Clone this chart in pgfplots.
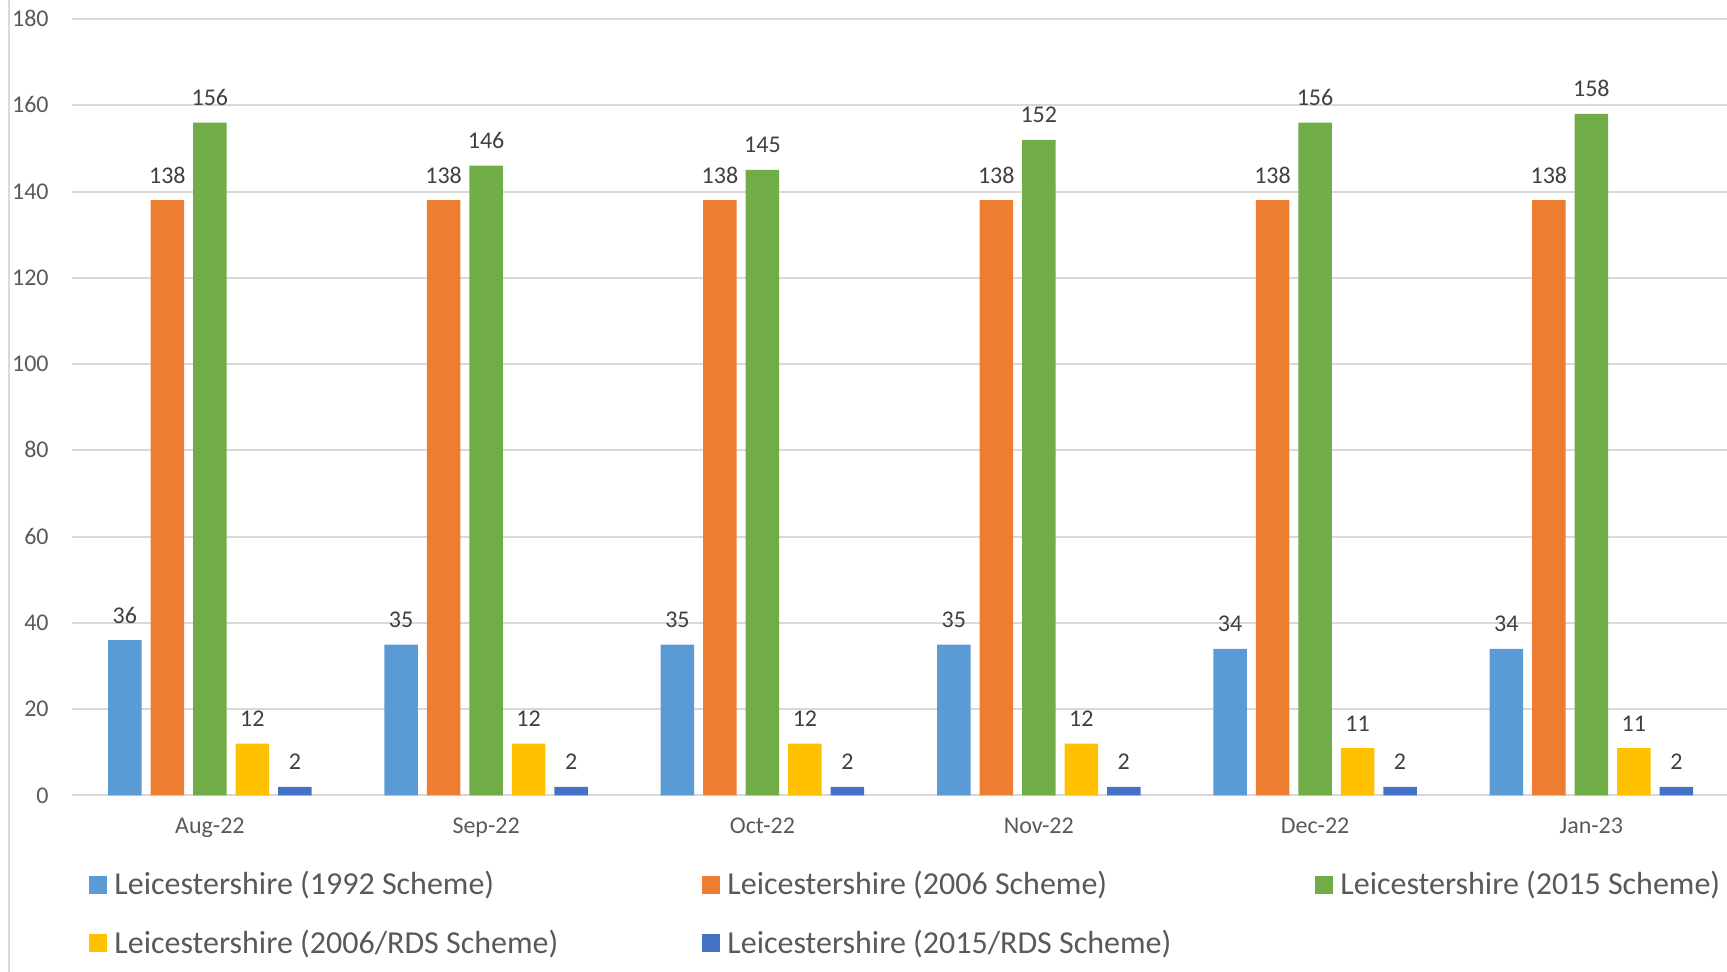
\documentclass[border=0pt]{standalone}
\usepackage{fontspec}
\setmainfont{Carlito}
\usepackage{pgfplots}
\pgfplotsset{compat=1.18}

\definecolor{s1}{HTML}{5B9BD5}
\definecolor{s2}{HTML}{ED7D31}
\definecolor{s3}{HTML}{70AD47}
\definecolor{s4}{HTML}{FFC000}
\definecolor{s5}{HTML}{4472C4}
\definecolor{gridc}{HTML}{D9D9D9}
\definecolor{tickc}{HTML}{595959}
\definecolor{labc}{HTML}{404040}

\newcommand{\legtext}[1]{\makebox[297.5pt][l]{\hspace{3.5pt}#1}}

\begin{document}
\begin{tikzpicture}
\useasboundingbox (0,0) rectangle (863.5pt,486pt);
\draw[gridc, line width=1.2pt] (4.5pt,0) -- (4.5pt,486pt);
\begin{axis}[
  at={(35.85pt,88.25pt)}, anchor=south west,
  scale only axis, width=828.9pt, height=388.25pt,
  xmin=-0.5, xmax=5.5, ymin=0, ymax=180,
  ybar=4.5pt, bar width=16.75pt,
  xtick={0,1,2,3,4,5},
  xticklabels={Aug-22,Sep-22,Oct-22,Nov-22,Dec-22,Jan-23},
  ytick={0,20,...,180},
  /pgf/number format/assume math mode=true,
  major tick length=0pt,
  axis line style={draw=none},
  ymajorgrids, grid style={gridc, line width=1pt},
  tick label style={font=\fontsize{12}{14}\selectfont, text=tickc},
  xticklabel style={anchor=base, inner sep=0pt, yshift=-19.25pt},
  yticklabel style={anchor=base east, inner sep=0pt, xshift=-11.35pt, yshift=-3.8pt},
  nodes near coords,
  nodes near coords style={anchor=base, inner sep=0pt, yshift=8.5pt,
    font=\fontsize{12}{14}\selectfont, text=labc},
  legend columns=3,
  legend cell align=left,
  legend image code/.code={\fill[#1] (0pt,-3.5pt) rectangle (9pt,5.5pt);},
  legend style={at={(0,0)}, anchor=north west, xshift=8.65pt, yshift=-37.4pt,
    draw=none, fill=none, inner sep=0pt, row sep=13.25pt,
    font=\fontsize{16}{18}\selectfont, text=tickc,
    nodes={inner sep=0pt, text height=12pt, text depth=4pt},
    /tikz/every even column/.append style={column sep=0pt}},
]
\addplot[fill=s1, draw=none] coordinates {(0,36) (1,35) (2,35) (3,35) (4,34) (5,34)};
\addlegendentry{\legtext{Leicestershire (1992 Scheme)}}
\addplot[fill=s2, draw=none] coordinates {(0,138) (1,138) (2,138) (3,138) (4,138) (5,138)};
\addlegendentry{\legtext{Leicestershire (2006 Scheme)}}
\addplot[fill=s3, draw=none] coordinates {(0,156) (1,146) (2,145) (3,152) (4,156) (5,158)};
\addlegendentry{\legtext{Leicestershire (2015 Scheme)}}
\addplot[fill=s4, draw=none] coordinates {(0,12) (1,12) (2,12) (3,12) (4,11) (5,11)};
\addlegendentry{\legtext{Leicestershire (2006/RDS Scheme)}}
\addplot[fill=s5, draw=none] coordinates {(0,2) (1,2) (2,2) (3,2) (4,2) (5,2)};
\addlegendentry{\legtext{Leicestershire (2015/RDS Scheme)}}
\end{axis}
\end{tikzpicture}
\end{document}
